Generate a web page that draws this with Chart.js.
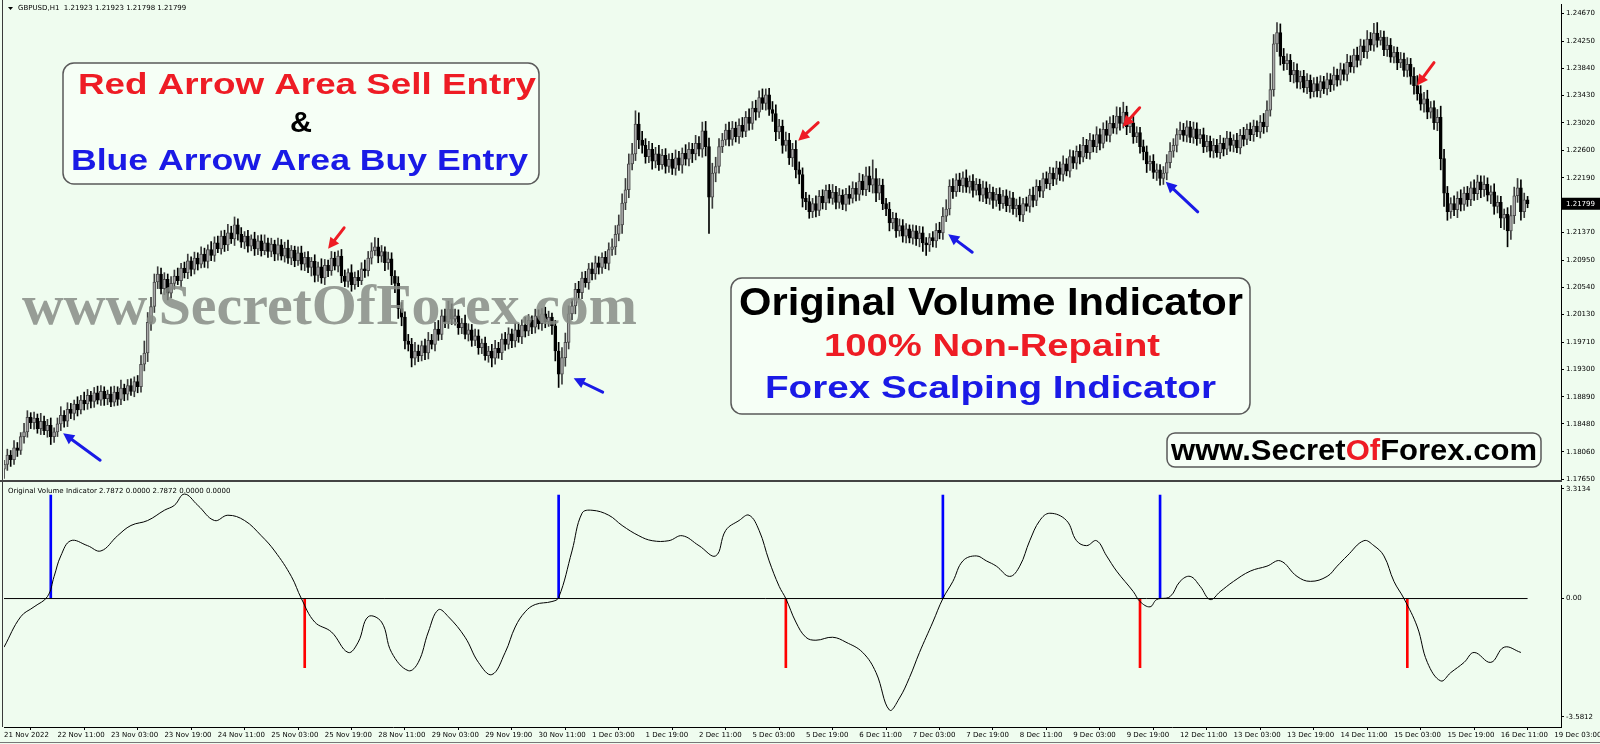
<!DOCTYPE html>
<html><head><meta charset="utf-8">
<script src="https://cdn.jsdelivr.net/npm/chart.js@4/dist/chart.umd.min.js"></script>
<style>
html,body{margin:0;padding:0;background:#effcef;width:1600px;height:744px;overflow:hidden}
#c1{position:absolute;left:0;top:0}
#c2{position:absolute;left:0;top:482px}
</style></head><body>
<canvas id="c1" width="1600" height="482"></canvas>
<canvas id="c2" width="1600" height="262"></canvas>
<script>
// ---------------- DATA ----------------
const symbolTitle = 'GBPUSD,H1  1.21923 1.21923 1.21798 1.21799';
const indicatorTitle = 'Original Volume Indicator 2.7872 0.0000 2.7872 0.0000 0.0000';
const timeLabels = ['21 Nov 2022','22 Nov 11:00','23 Nov 03:00','23 Nov 19:00','24 Nov 11:00','25 Nov 03:00','25 Nov 19:00','28 Nov 11:00','29 Nov 03:00','29 Nov 19:00','30 Nov 11:00','1 Dec 03:00','1 Dec 19:00','2 Dec 11:00','5 Dec 03:00','5 Dec 19:00','6 Dec 11:00','7 Dec 03:00','7 Dec 19:00','8 Dec 11:00','9 Dec 03:00','9 Dec 19:00','12 Dec 11:00','13 Dec 03:00','13 Dec 19:00','14 Dec 11:00','15 Dec 03:00','15 Dec 19:00','16 Dec 11:00','19 Dec 03:00'];
const barsPerLabel = 16;
const totalSlots = 466;
const priceTicks = [1.24670,1.24250,1.23840,1.23430,1.23020,1.22600,1.22190,1.21370,1.20950,1.20540,1.20130,1.19710,1.19300,1.18890,1.18480,1.18060,1.17650];
const lastPrice = 1.21799;
const indTicks = [3.3134, 0, -3.5812];
const indTickLabels = ['3.3134','0.00','-3.5812'];

// H1 closes in pips (x 0.0001)
const closePips = [
11787,11801,11794,11812,
11808,11829,11836,11858,11850,
11857,11841,11852,11838,11846,11829,11836,
11848,11861,11852,11870,11864,11878,11869,11884,
11878,11891,11882,11895,11884,11897,11886,11893,11881,
11896,11885,11902,11893,11906,11897,11912,11904,
11938,11955,12001,12025,12062,
12074,12052,12066,12045,12060,12071,12064,
12083,12076,12094,12081,12098,12089,12104,12093,
12111,12102,12121,12112,12131,12118,
12136,12127,12148,12134,
12122,12131,12116,12127,12112,12124,12109,12121,12108,12119,
12104,12118,12101,12113,12098,12110,12094,12106,12089,12099,
12084,12093,12072,12085,12068,12087,12079,12098,12086,12101,
12071,12063,12076,12058,12069,12064,12082,12079,12098,12109,
12115,12101,12108,12091,12097,
12071,12060,12022,12009,11973,11968,
11947,11958,11951,11966,11955,
11974,11968,11991,11983,12011,12002,12021,
12006,12011,11993,12000,11983,11990,11974,
11981,11963,11970,11951,11958,11947,
11962,11955,11976,11968,11984,11973,
11990,11979,11997,11988,12004,11994,12011,11999,
12014,12002,12009,11996,11958,11923,
11948,11971,12014,12026,12051,12046,
12068,12061,12082,12074,12091,12084,12099,12090,12111,
12115,12134,12148,12181,12201,12240,12255,12300,
12276,12268,12251,12262,12244,12255,
12239,12253,12236,12247,12233,12249,12238,12256,12247,12262,
12255,12271,12262,12290,12266,12190,12226,
12236,12266,12276,12291,12277,12294,12281,12298,
12289,12310,12301,12324,12318,12340,12331,12344,
12322,12316,12288,12297,12268,12276,12249,12262,12231,
12224,12188,12183,12168,12180,12170,
12191,12181,12200,12188,12197,12182,12193,12179,12194,
12188,12203,12194,12214,12201,12222,12208,12218,12196,12208,
12180,12172,12151,12158,12139,12147,12131,12142,
12128,12139,12127,12136,12121,12118,12129,12124,12140,12136,
12161,12172,12206,12198,12216,12207,
12219,12205,12214,12200,12209,12193,12204,12188,12197,12185,
12194,12180,12192,12177,12189,12172,12178,12163,12180,12176,
12193,12185,12206,12199,12218,12210,12226,12217,12234,12224,
12240,12229,12251,12241,12259,12250,12268,12257,12276,12266,
12284,12271,12292,12283,12301,12294,12312,12301,12318,
12296,12302,12281,12287,12266,12258,12240,12244,12227,
12231,12218,12226,12242,12259,12268,12284,12291,
12283,12296,12280,12293,12278,12284,12266,12274,12259,12268,
12257,12271,12262,12279,12268,12276,12264,12283,12277,12292,
12284,12297,12288,12303,12296,12321,12352,
12421,12438,12402,12391,12396,12374,
12381,12363,12372,12355,12366,12349,12361,12350,12364,12353,
12367,12359,12374,12366,12382,12375,12393,12386,12404,12396,
12418,12409,12428,12419,12437,12426,12431,12412,
12419,12401,12408,12392,12398,12381,12390,12372,12358,
12346,12330,12338,12318,12325,12302,12310,
12248,12196,12168,12180,12171,12188,12179,
12196,12186,12204,12195,12213,12201,12209,12193,
12198,12176,12182,12158,12164,12139,12162,
12192,12204,12168,12186,12179.9
];
// upper / lower shadow lengths in pips
const wickUpPips = [
6,9,7,11,8,6,13,10,7,9,6,12,8,9,11,6,9,13,7,10,
9,6,11,7,12,9,6,8,10,9,7,6,11,9,8,12,6,9,10,7,
9,13,18,15,14,12,11,9,10,8,10,9,12,7,9,10,6,9,8,11,
9,7,12,9,10,8,9,13,10,12,9,10,7,9,6,10,8,9,12,7,
9,6,10,8,9,12,7,6,9,10,8,9,6,10,7,12,9,8,10,9,
8,10,9,6,12,8,10,9,13,10,12,14,13,9,7,10,9,8,10,9,
8,10,9,13,9,7,10,12,9,10,13,9,10,12,8,10,9,7,12,9,
8,10,9,6,9,7,10,12,9,8,10,9,7,10,9,8,12,9,7,10,
9,8,10,9,6,8,13,15,14,12,10,9,12,9,10,8,9,10,9,7,
9,10,12,13,15,14,17,15,16,20,17,13,10,12,9,10,13,9,10,8,
9,12,10,8,13,10,9,12,10,13,14,13,15,14,12,10,9,12,10,9,
10,12,9,13,10,12,10,13,9,10,12,13,10,9,12,10,9,13,12,10,
9,10,8,12,9,10,8,9,12,9,10,8,9,13,10,9,12,10,13,14,
28,15,10,9,8,10,9,8,10,9,8,6,9,8,10,9,8,6,9,10,
12,13,14,10,12,9,10,9,12,8,10,9,8,10,9,12,8,9,10,8,
9,10,8,9,12,8,10,9,12,10,9,8,10,9,8,10,9,12,8,10,
9,8,10,12,9,10,8,12,9,10,13,10,12,14,13,15,9,8,10,9,
8,10,9,8,10,9,8,10,12,13,10,9,12,10,9,8,10,9,8,10,
9,8,10,9,12,8,10,9,8,10,9,12,8,10,9,8,10,13,14,24,
14,15,13,12,10,9,12,10,8,9,10,8,9,10,9,8,10,9,12,9,
10,9,12,10,9,12,10,9,13,10,15,16,10,9,12,10,9,8,10,9,
10,9,13,15,12,10,13,9,10,12,17,14,10,9,12,10,13,9,10,9,
12,10,9,13,10,9,12,10,9,8,10,15,13,14,12,10,5
];
const wickDnPips = [
14,9,10,7,9,6,10,8,9,10,7,9,6,10,12,9,7,10,9,8,
8,10,9,6,9,8,10,9,6,8,10,9,7,6,9,8,10,9,6,8,
9,8,10,13,12,9,10,8,9,10,7,9,6,10,8,9,10,7,9,6,
9,10,8,9,6,8,10,9,7,10,9,8,10,9,7,10,9,8,6,9,
8,10,9,6,9,8,10,9,7,9,10,8,13,10,9,8,10,9,7,6,
9,10,8,9,10,7,9,6,10,8,9,7,10,9,12,10,13,14,15,13,
12,10,13,10,9,8,10,9,7,10,9,8,9,10,8,9,10,9,7,10,
9,8,10,9,7,10,13,9,8,10,9,7,10,9,8,10,9,7,10,9,
8,10,9,7,13,15,20,15,13,10,9,12,10,9,7,10,9,8,10,9,
8,10,9,12,10,13,10,12,9,10,13,12,10,9,12,10,9,7,10,9,
9,10,8,12,9,10,13,9,10,12,14,55,17,13,10,9,8,10,9,8,
10,9,8,10,9,12,8,9,10,9,12,13,10,12,9,10,13,12,14,13,
12,10,9,10,8,9,10,7,9,10,9,8,10,9,7,10,9,8,9,10,
12,13,10,9,10,12,9,10,8,9,10,7,9,10,12,13,16,10,9,10,
9,10,8,9,10,7,9,10,8,9,10,7,9,10,8,9,12,9,10,7,
9,10,8,12,9,10,7,9,10,8,9,10,7,9,10,8,9,10,7,9,
8,9,10,7,9,10,8,9,10,7,9,10,8,9,10,7,12,9,10,9,
10,12,13,10,9,12,10,9,10,8,9,10,7,9,10,8,9,10,7,9,
8,9,10,7,9,10,8,9,10,7,9,10,8,9,10,7,9,10,8,9,
10,12,13,10,9,10,12,9,10,7,9,10,8,9,10,7,9,10,8,9,
7,9,10,8,9,10,7,9,10,8,9,10,7,9,10,8,9,10,7,9,
10,12,13,10,9,12,10,9,10,12,17,20,13,10,9,12,10,9,10,9,
10,9,12,10,9,13,12,10,14,17,24,13,12,10,13,9,6
];

// indicator line: [bar index, value]
const indicatorPoints = [[0,-1.47],[5,-0.55],[9,-0.25],[13,0.06],[15,0.67],[17,1.29],[20,1.75],[25,1.60],[29,1.44],[34,1.90],[38,2.21],[43,2.36],[48,2.67],[51,2.82],[54,3.16],[58,2.82],[63,2.36],[67,2.52],[72,2.36],[77,1.90],[81,1.44],[86,0.67],[89,0],[93,-0.71],[98,-1.01],[103,-1.63],[106,-1.32],[109,-0.55],[113,-0.71],[116,-1.63],[121,-2.18],[124,-1.93],[127,-1.01],[130,-0.34],[133,-0.55],[138,-1.17],[142,-1.93],[146,-2.30],[150,-1.63],[153,-0.86],[156,-0.40],[159,-0.18],[164,-0.09],[166,0.03],[170,1.44],[173,2.58],[176,2.67],[181,2.52],[185,2.21],[190,1.90],[194,1.75],[199,1.75],[203,1.90],[208,1.60],[213,1.29],[216,2.06],[220,2.36],[223,2.52],[226,2.06],[229,1.14],[232,0.37],[234,0],[237,-0.71],[240,-1.17],[243,-1.26],[248,-1.17],[252,-1.32],[257,-1.63],[261,-2.24],[265,-3.37],[268,-3.01],[271,-2.39],[274,-1.63],[278,-0.71],[281,0],[284,0.52],[287,1.14],[291,1.29],[294,1.14],[297,0.98],[301,0.67],[304,0.98],[307,1.75],[310,2.36],[313,2.58],[318,2.36],[321,1.75],[324,1.60],[327,1.75],[330,1.29],[333,0.83],[338,0.21],[340,-0.09],[343,-0.25],[345,-0.03],[349,0.06],[352,0.52],[355,0.67],[358,0.37],[361,-0.03],[364,0.21],[368,0.52],[373,0.83],[378,0.98],[382,1.14],[387,0.67],[391,0.52],[396,0.67],[399,0.98],[402,1.29],[407,1.75],[410,1.60],[413,1.29],[416,0.52],[419,0],[423,-0.86],[426,-1.93],[430,-2.49],[433,-2.24],[437,-1.93],[440,-1.63],[445,-1.93],[449,-1.47],[454,-1.63]];
const buySignalBars = [14,166,281,346];
const sellSignalBars = [90,234,340,420];
const buySignalValue = 3.13;
const sellSignalValue = -2.09;

// chart arrows: head anchored at [bar, price]
const sellArrows = [[97,1.2112],[237.7,1.2275],[334.8,1.2296],[422.9,1.2358]];
const buyArrows = [[17.7,1.1834],[170.5,1.1917],[282.6,1.2134],[347.7,1.2213]];

// ---------------- BUILD ----------------
const nBars = closePips.length;
const closes = closePips.map(p => p / 10000);
const opens = closes.map((c, i) => i === 0 ? c - 0.0007 : closes[i - 1]);
const highs = closes.map((c, i) => Math.max(c, opens[i]) + (wickUpPips[i] || 0) / 10000);
const lows = closes.map((c, i) => Math.min(c, opens[i]) - (wickDnPips[i] || 0) / 10000);
const isBull = closes.map((c, i) => c >= opens[i]);

const AX_FONT = {family: '"DejaVu Sans", sans-serif', size: 7};

function roundBox(ctx, x, y, w, h, r) {
  ctx.save();
  ctx.beginPath();
  ctx.roundRect(x, y, w, h, r);
  ctx.fillStyle = '#f6fff6';
  ctx.fill();
  ctx.lineWidth = 1.5;
  ctx.strokeStyle = '#5a5a5a';
  ctx.stroke();
  ctx.restore();
}
function fitText(ctx, parts, x0, targetW, cy, size, family, weight) {
  ctx.save();
  ctx.font = `${weight} ${size}px ${family}`;
  const w = parts.reduce((s, p) => s + ctx.measureText(p[0]).width, 0);
  const sx = targetW / w;
  ctx.translate(x0, cy + size * 0.355);
  ctx.scale(sx, 1);
  ctx.textBaseline = 'alphabetic';
  ctx.textAlign = 'left';
  let x = 0;
  for (const p of parts) { ctx.fillStyle = p[1]; ctx.fillText(p[0], x, 0); x += ctx.measureText(p[0]).width; }
  ctx.restore();
}
function arrow(ctx, hx, hy, tx, ty, color) {
  const ang = Math.atan2(hy - ty, hx - tx);
  const L = 11, W = 5.5;
  ctx.save();
  ctx.strokeStyle = color; ctx.fillStyle = color; ctx.lineWidth = 3; ctx.lineCap = 'round';
  ctx.beginPath(); ctx.moveTo(tx, ty); ctx.lineTo(hx - Math.cos(ang) * L * 0.7, hy - Math.sin(ang) * L * 0.7); ctx.stroke();
  ctx.beginPath();
  ctx.moveTo(hx, hy);
  ctx.lineTo(hx - L * Math.cos(ang) + W * Math.sin(ang), hy - L * Math.sin(ang) - W * Math.cos(ang));
  ctx.lineTo(hx - L * Math.cos(ang) - W * Math.sin(ang), hy - L * Math.sin(ang) + W * Math.cos(ang));
  ctx.closePath(); ctx.fill();
  ctx.restore();
}
const sellTail = [[16,-21],[20,-18],[17,-19],[17,-23]];
const buyTail = [[37,27],[29,14],[24,18],[32,30]];

const decorTop = {
  id: 'decorTop',
  afterDraw(chart) {
    const ctx = chart.ctx, xs = chart.scales.x, ys = chart.scales.y, a = chart.chartArea;
    ctx.save();
    ctx.strokeStyle = '#3a3a3a'; ctx.lineWidth = 1;
    ctx.beginPath(); ctx.moveTo(2.5, 0); ctx.lineTo(2.5, 482); ctx.stroke();
    ctx.strokeStyle = '#444'; ctx.lineWidth = 2;
    ctx.beginPath(); ctx.moveTo(0, 481); ctx.lineTo(a.right + 1, 481); ctx.stroke();
    ctx.fillStyle = '#000';
    ctx.beginPath(); ctx.moveTo(8, 7); ctx.lineTo(13, 7); ctx.lineTo(10.5, 10); ctx.closePath(); ctx.fill();
    ctx.font = '7px "DejaVu Sans", sans-serif'; ctx.textBaseline = 'middle';
    ctx.fillText(symbolTitle, 18, 8.5);
    const py = ys.getPixelForValue(lastPrice);
    ctx.fillStyle = '#000'; ctx.fillRect(a.right + 1, py - 6, 38, 12);
    ctx.fillStyle = '#fff'; ctx.textAlign = 'left'; ctx.fillText(lastPrice.toFixed(5), a.right + 5, py);
    ctx.restore();

    ctx.save(); ctx.globalAlpha = 0.85;
    fitText(ctx, [['www.SecretOfForex.com', '#878c86']], 22, 615, 304, 56, '"Liberation Serif", serif', 'bold');
    ctx.restore();

    sellArrows.forEach((p, i) => {
      const hx = xs.getPixelForValue(p[0]), hy = ys.getPixelForValue(p[1]);
      arrow(ctx, hx, hy, hx + sellTail[i][0], hy + sellTail[i][1], '#ee1c24');
    });
    buyArrows.forEach((p, i) => {
      const hx = xs.getPixelForValue(p[0]), hy = ys.getPixelForValue(p[1]);
      arrow(ctx, hx, hy, hx + buyTail[i][0], hy + buyTail[i][1], '#1a1ae6');
    });

    const SANS = '"Liberation Sans", Arial, sans-serif';
    roundBox(ctx, 63, 63, 476, 121, 11);
    fitText(ctx, [['Red Arrow Area Sell Entry', '#ee1c24']], 78, 458, 83, 30, SANS, 'bold');
    fitText(ctx, [['&', '#000']], 290, 22, 121, 30, SANS, 'bold');
    fitText(ctx, [['Blue Arrow Area Buy Entry', '#1a1ae6']], 71, 457, 159, 30, SANS, 'bold');
    roundBox(ctx, 731, 278, 519, 136, 11);
    fitText(ctx, [['Original Volume Indicator', '#000']], 739, 504, 302, 38, SANS, 'bold');
    fitText(ctx, [['100% Non-Repaint', '#ee1c24']], 824, 336, 345, 31, SANS, 'bold');
    fitText(ctx, [['Forex Scalping Indicator', '#1a1ae6']], 765, 451, 387, 31, SANS, 'bold');
    roundBox(ctx, 1167, 433, 374, 34, 8);
    fitText(ctx, [['www.Secret', '#000'], ['Of', '#ee1c24'], ['Forex.com', '#000']], 1171, 366, 450, 29, SANS, 'bold');
  }
};

const decorBottom = {
  id: 'decorBottom',
  afterDraw(chart) {
    const ctx = chart.ctx;
    ctx.save();
    ctx.strokeStyle = '#3a3a3a'; ctx.lineWidth = 1;
    ctx.beginPath(); ctx.moveTo(2.5, 0); ctx.lineTo(2.5, 245); ctx.stroke();
    ctx.strokeStyle = '#777';
    ctx.beginPath(); ctx.moveTo(0, 260.5); ctx.lineTo(1600, 260.5); ctx.stroke();
    ctx.fillStyle = '#000'; ctx.font = '7px "DejaVu Sans", sans-serif'; ctx.textBaseline = 'middle';
    ctx.fillText(indicatorTitle, 8, 9);
    ctx.restore();
  }
};

Chart.defaults.font.family = '"DejaVu Sans", sans-serif';

new Chart(document.getElementById('c1'), {
  type: 'bar',
  data: {
    datasets: [
      {
        label: 'wick', order: 2, grouped: false, barThickness: 1,
        data: closes.map((c, i) => ({x: i, y: [lows[i], highs[i]]})),
        backgroundColor: ctx => isBull[ctx.dataIndex] ? '#3c3c3c' : '#000'
      },
      {
        label: 'body', order: 1, grouped: false, barThickness: 3, minBarLength: 1,
        borderSkipped: false,
        data: closes.map((c, i) => ({x: i, y: [opens[i], c]})),
        backgroundColor: ctx => isBull[ctx.dataIndex] ? '#a8a8a8' : '#000',
        borderColor: ctx => isBull[ctx.dataIndex] ? '#4a4a4a' : '#000',
        borderWidth: 1
      }
    ]
  },
  options: {
    responsive: false, animation: false, devicePixelRatio: 1,
    layout: {padding: {left: 4, top: 4, right: 0, bottom: 1}},
    plugins: {legend: {display: false}, tooltip: {enabled: false}},
    scales: {
      x: {type: 'linear', min: 0, max: totalSlots, display: false, offset: false},
      y: {
        type: 'linear', position: 'right', min: 1.1762, max: 1.2481,
        afterBuildTicks: s => { s.ticks = priceTicks.map(v => ({value: v})); },
        afterFit: s => { s.width = 39; s.paddingTop = 0; s.paddingBottom = 0; },
        grid: {drawOnChartArea: false, drawTicks: true, tickLength: 3, color: '#000'},
        border: {display: true, color: '#000', width: 1},
        ticks: {font: AX_FONT, color: '#000', padding: 2, callback: v => Number(v).toFixed(5)}
      }
    }
  },
  plugins: [decorTop]
});

new Chart(document.getElementById('c2'), {
  type: 'bar',
  data: {
    datasets: [
      {type: 'line', order: 1, data: indicatorPoints.map(p => ({x: p[0], y: p[1]})), borderColor: '#000', borderWidth: 1, pointRadius: 0, tension: 0.4},
      {type: 'line', order: 2, data: [{x: 0, y: 0}, {x: nBars - 1, y: 0}], borderColor: '#000', borderWidth: 1, pointRadius: 0},
      {type: 'bar', order: 3, grouped: false, barThickness: 2, data: buySignalBars.map(b => ({x: b, y: buySignalValue})), backgroundColor: '#0000ff'},
      {type: 'bar', order: 3, grouped: false, barThickness: 2, data: sellSignalBars.map(b => ({x: b, y: sellSignalValue})), backgroundColor: '#ff0000'}
    ]
  },
  options: {
    responsive: false, animation: false, devicePixelRatio: 1,
    layout: {padding: {left: 4, top: 3, right: 0, bottom: 0}},
    plugins: {legend: {display: false}, tooltip: {enabled: false}},
    scales: {
      x: {
        type: 'linear', min: 0, max: totalSlots, offset: false, position: 'bottom',
        afterBuildTicks: s => { s.ticks = timeLabels.map((t, i) => ({value: i * barsPerLabel})); },
        afterFit: s => { s.height = 17; s.paddingLeft = 0; s.paddingRight = 0; },
        grid: {drawOnChartArea: false, drawTicks: true, tickLength: 3, color: '#000'},
        border: {display: true, color: '#000', width: 1},
        ticks: {autoSkip: false, maxRotation: 0, minRotation: 0, align: 'start', padding: 1, font: AX_FONT, color: '#000', callback: (v, i) => timeLabels[i]}
      },
      y: {
        type: 'linear', position: 'right', min: -3.884, max: 3.434,
        afterBuildTicks: s => { s.ticks = indTicks.map(v => ({value: v})); },
        afterFit: s => { s.width = 39; s.paddingTop = 0; s.paddingBottom = 0; },
        grid: {drawOnChartArea: false, drawTicks: true, tickLength: 3, color: '#000'},
        border: {display: true, color: '#000', width: 1},
        ticks: {font: AX_FONT, color: '#000', padding: 2, callback: (v, i) => indTickLabels[i]}
      }
    }
  },
  plugins: [decorBottom]
});
</script>
</body></html>
